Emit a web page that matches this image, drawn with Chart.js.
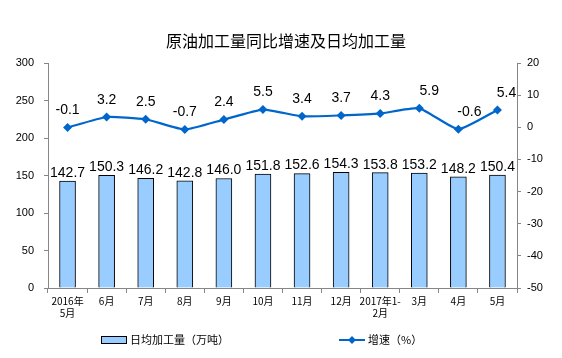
<!DOCTYPE html>
<html>
<head>
<meta charset="utf-8">
<script src="https://cdn.jsdelivr.net/npm/chart.js@4/dist/chart.umd.min.js"></script>
<style>
  html, body { margin: 0; padding: 0; background: #fff; }
  #wrap { width: 562px; height: 358px; position: relative; }
</style>
</head>
<body>
<div id="wrap"><canvas id="c" width="562" height="358"></canvas></div>
<script>
// categories and series
const months = [['2016年', '5月'], '6月', '7月', '8月', '9月', '10月', '11月', '12月', ['2017年1-', '2月'], '3月', '4月', '5月'];
const dailyOutput = [142.7, 150.3, 146.2, 142.8, 146.0, 151.8, 152.6, 154.3, 153.8, 153.2, 148.2, 150.4];
const growthRate = [-0.1, 3.2, 2.5, -0.7, 2.4, 5.5, 3.4, 3.7, 4.3, 5.9, -0.6, 5.4];
const leftTicks = [0, 50, 100, 150, 200, 250, 300];
const rightTicks = [-50, -40, -30, -20, -10, 0, 10, 20];

const BAR_FILL = '#99CCFF';
const LINE_BLUE = '#0066CC';
const AXIS_GREY = '#868686';
const NUM_FONT = 'Liberation Sans, Arial, sans-serif';
const CJK_FONT = '"Noto Sans CJK SC", sans-serif';

// draws value labels, title and the spread-out legend
const decorPlugin = {
  id: 'decor',
  afterDatasetsDraw(chart) {
    const ctx = chart.ctx;
    ctx.save();
    ctx.fillStyle = '#000';
    ctx.font = '14px ' + NUM_FONT;
    ctx.textAlign = 'center';
    ctx.textBaseline = 'bottom';

    chart.getDatasetMeta(0).data.forEach((bar, i) => {
      ctx.fillText(dailyOutput[i].toFixed(1), bar.x, bar.y - 1);
    });

    const shift = { 9: 10, 10: 11, 11: 9 }; // labels nudged right in the original
    chart.getDatasetMeta(1).data.forEach((pt, i) => {
      ctx.fillText(growthRate[i].toFixed(1), pt.x + (shift[i] || 0), pt.y - 10);
    });
    ctx.restore();
  },
  afterDraw(chart) {
    const ctx = chart.ctx;
    ctx.save();
    // title
    ctx.fillStyle = '#000';
    ctx.font = '16px ' + CJK_FONT;
    ctx.textAlign = 'center';
    ctx.textBaseline = 'middle';
    ctx.fillText('原油加工量同比增速及日均加工量', 286, 41);

    // legend: bar
    ctx.fillStyle = BAR_FILL;
    ctx.fillRect(101.5, 336.5, 25, 7);
    ctx.strokeStyle = '#000';
    ctx.lineWidth = 1;
    ctx.strokeRect(101.5, 336.5, 25, 7);
    ctx.fillStyle = '#000';
    ctx.font = '11px ' + CJK_FONT;
    ctx.textAlign = 'left';
    ctx.fillText('日均加工量（万吨）', 130, 340);

    // legend: line
    ctx.strokeStyle = LINE_BLUE;
    ctx.lineWidth = 2;
    ctx.beginPath();
    ctx.moveTo(339, 340);
    ctx.lineTo(365, 340);
    ctx.stroke();
    ctx.fillStyle = LINE_BLUE;
    ctx.beginPath();
    ctx.moveTo(352, 336);
    ctx.lineTo(356, 340);
    ctx.lineTo(352, 344);
    ctx.lineTo(348, 340);
    ctx.closePath();
    ctx.fill();
    ctx.fillStyle = '#000';
    ctx.fillText('增速（%）', 368, 340);
    ctx.restore();
  }
};

new Chart(document.getElementById('c'), {
  type: 'bar',
  data: {
    labels: months,
    datasets: [
      {
        type: 'bar',
        label: '日均加工量（万吨）',
        data: dailyOutput,
        yAxisID: 'y',
        backgroundColor: BAR_FILL,
        borderColor: '#000',
        borderWidth: 1,
        barThickness: 16,
        order: 2
      },
      {
        type: 'line',
        label: '增速（%）',
        data: growthRate,
        yAxisID: 'y1',
        borderColor: LINE_BLUE,
        backgroundColor: LINE_BLUE,
        borderWidth: 2.2,
        pointStyle: 'rectRot',
        pointRadius: 4.5,
        pointBorderWidth: 0,
        tension: 0.15,
        order: 1
      }
    ]
  },
  options: {
    responsive: false,
    animation: false,
    layout: { padding: { top: 63, left: 0, right: 0, bottom: 0 } },
    plugins: {
      legend: { display: false },
      tooltip: { enabled: false }
    },
    scales: {
      x: {
        border: { color: AXIS_GREY, width: 1 },
        grid: { drawOnChartArea: false, drawTicks: true, tickLength: 5, color: AXIS_GREY },
        ticks: {
          color: '#000',
          font: { family: CJK_FONT, size: 10 },
          maxRotation: 0,
          autoSkip: false,
          padding: 2
        },
        afterFit: s => { s.height = 70; }
      },
      y: {
        position: 'left',
        min: 0,
        max: 300,
        afterBuildTicks: s => { s.ticks = leftTicks.map(v => ({ value: v })); },
        border: { color: AXIS_GREY, width: 1 },
        grid: { drawOnChartArea: false, drawTicks: true, tickLength: 4, color: AXIS_GREY },
        ticks: { color: '#000', font: { family: NUM_FONT, size: 11 }, padding: 10 },
        afterFit: s => { s.width = 48; }
      },
      y1: {
        position: 'right',
        min: -50,
        max: 20,
        afterBuildTicks: s => { s.ticks = rightTicks.map(v => ({ value: v })); },
        border: { color: AXIS_GREY, width: 1 },
        grid: { drawOnChartArea: false, drawTicks: true, tickLength: 4, color: AXIS_GREY },
        ticks: { color: '#000', font: { family: NUM_FONT, size: 11 }, padding: 6 },
        afterFit: s => { s.width = 45; }
      }
    }
  },
  plugins: [decorPlugin]
});
</script>
</body>
</html>
